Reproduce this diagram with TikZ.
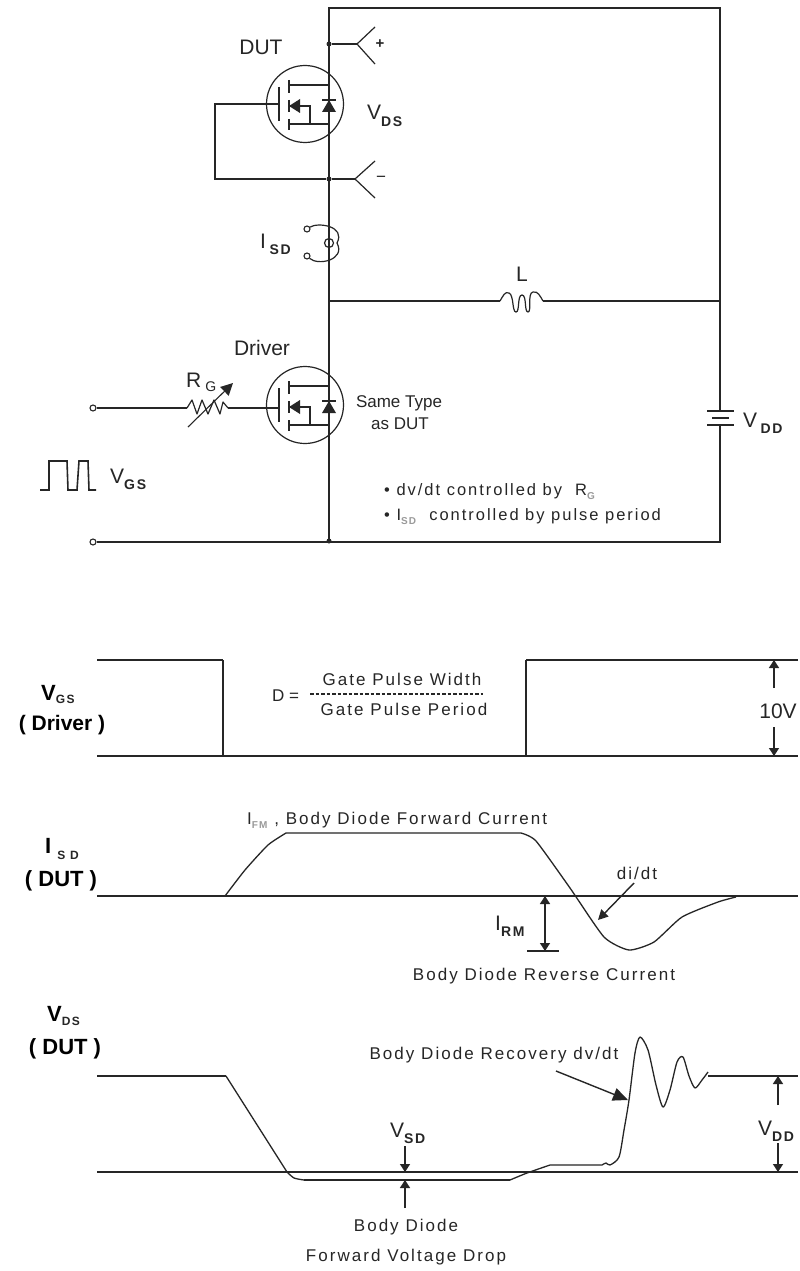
\documentclass[tikz,border=0pt]{standalone}
\usepackage{fontspec}
\setmainfont{Liberation Sans}
\newfontfamily\lsf[LetterSpace=12]{Liberation Sans}
\usetikzlibrary{arrows.meta}
\definecolor{ink}{HTML}{262626}
\definecolor{faint}{HTML}{9A9A9A}
\newcommand{\Fs}[1]{\fontsize{#1}{#1}\selectfont}
\newcommand{\Sb}[1]{\raisebox{-6.5pt}{\Fs{14}\lsf\bfseries #1}}
\newcommand{\Gb}[1]{\raisebox{-4pt}{\Fs{10}\color{faint}\bfseries #1}}
\tikzset{
 wire/.style={draw=ink,line width=1.6pt},
 thin wire/.style={draw=ink,line width=1.2pt},
 wave/.style={draw=ink,line width=1.3pt,line join=round},
 base line/.style={draw=ink,line width=2.1pt},
 tip/.style={-{Triangle[length=10pt,width=10pt]},draw=ink,line width=1.4pt,fill=ink},
 dim/.style={-{Triangle[length=8pt,width=10pt]},draw=ink,line width=1.4pt},
 dotj/.style={circle,fill=ink,inner sep=0pt,minimum size=5pt},
 term/.style={circle,draw=ink,line width=1.1pt,fill=white,inner sep=0pt,minimum size=6pt},
 sm/.style={font=\lsf\Fs{17},text=ink,inner sep=0pt},
 sn/.style={font=\lsf\Fs{16.5},text=ink,inner sep=0pt},
 md/.style={font=\Fs{17},text=ink,inner sep=0pt},
 lg/.style={font=\Fs{21},text=ink,inner sep=0pt},
 hd/.style={font=\bfseries\Fs{22},text=black,inner sep=0pt},
 mosfet/.pic={
  \draw[thin wire] (0,0) circle (38.5);
  \draw[wire] (-26,-17) -- (-26,17);
  \draw[wire] (-16,-24) -- (-16,-11) (-16,-4) -- (-16,8) (-16,15) -- (-16,26);
  \draw[wire] (-16,-19) -- (24,-19) (-16,20) -- (24,20);
  \draw[wire] (-16,2) -- (5,2) -- (5,20);
  \fill[ink] (-16,2) -- (-5,-5) -- (-5,9) -- cycle;
  \fill[ink] (24,-4) -- (31,8) -- (17,8) -- cycle;
  \draw[wire] (17,-4) -- (31,-4);
 }
}
\begin{document}
\begin{tikzpicture}[x=1pt,y=-1pt]
\useasboundingbox (0,0) rectangle (800,1271);
\fill[white] (0,0) rectangle (800,1271);
% --- circuit coordinates
\coordinate (tl) at (329,8);
\coordinate (tr) at (720,8);
\coordinate (br) at (720,542);
\coordinate (gndL) at (329,542);
\coordinate (mid) at (329,301);
\coordinate (midR) at (720,301);
\coordinate (lL) at (500,301);
\coordinate (lR) at (543,301);
\coordinate (batT) at (720,411);
\coordinate (batB) at (720,425);
\node[dotj] (jplus) at (329,44) {};
\node[dotj] (jminus) at (329,179) {};
\node[dotj] (jgnd) at (329,541) {};
% loop
\draw[wire] (gndL) -- (tl) -- (tr) -- (batT);
\draw[wire] (batB) -- (br) -- (gndL);
\draw[wire] (mid) -- (lL);
\draw[wire] (lR) -- (midR);
% inductor
\draw[thin wire] (lL) .. controls (503,296) and (505,291) .. (509,293) .. controls (514,295) and (512,312) .. (516,312) .. controls (520,312) and (517,295) .. (522,295) .. controls (527,295) and (524,312) .. (528,312) .. controls (532,312) and (527,293) .. (533,292) .. controls (538,291) and (540,296) .. (lR);
% battery
\draw[wire] (707,411) -- (734,411) (712,418) -- (729,418) (707,425) -- (734,425);
% MOSFETs
\pic at (305,104) {mosfet};
\pic at (305,405) {mosfet};
% DUT gate return
\coordinate (gdut) at (279,104);
\coordinate (retTop) at (215,104);
\coordinate (retBot) at (215,179);
\draw[wire] (gdut) -- (retTop) -- (retBot) -- (jminus);
% V_DS probes
\coordinate (pv) at (357,44);
\coordinate (pm) at (355,179);
\draw[wire] (jplus) -- (pv);
\draw[wire] (jminus) -- (pm);
\draw[thin wire] (375,27) -- (pv) -- (375,64);
\draw[thin wire] (375,161) -- (pm) -- (375,198);
\node[font=\bfseries\Fs{15},text=ink,inner sep=0pt] (plus) at (380,44) {+};
\node[md,anchor=center] (minus) at (381,179) {−};
% current probe
\node[term] (cpA) at (307,229) {};
\node[term] (cpB) at (307,256) {};
\draw[thin wire] (cpA) .. controls (318,222) and (346,226) .. (337,243);
\draw[thin wire] (cpB) .. controls (318,266) and (346,260) .. (337,243);
\draw[thin wire] (329,243) circle (4.5);
% gate drive
\node[term] (tg) at (93,408) {};
\node[term] (tb) at (93,542) {};
\coordinate (rL) at (187,408);
\coordinate (rR) at (228,408);
\coordinate (gdrv) at (279,408);
\draw[wire] (tg) -- (rL);
\draw[wire] (rR) -- (gdrv);
\draw[wire] (tb) -- (gndL);
\draw[thin wire,line join=round] (rL) -- (192,400) -- (197,414) -- (202,400) -- (208,414) -- (214,400) -- (220,414) -- (223,402) -- (rR);
\coordinate (raS) at (188,427);
\coordinate (raE) at (233,383);
\draw[-{Triangle[length=12pt,width=12pt]},draw=ink,line width=1.1pt] (raS) -- (raE);
% pulse icon
\draw[wire,line join=miter] (40,490) -- (49,490) -- (49,461) -- (67,461) -- (68,490) -- (77,490) -- (79,461) -- (88,461) -- (89,490) -- (96,490);
% circuit labels
\node[lg,anchor=base] (dut) at (261,55) {DUT};
\node[lg,anchor=base] (drv) at (262,355) {Driver};
\node[lg,anchor=base west] (vds) at (367,120) {V\Sb{DS}};
\node[lg,anchor=base west] (isd) at (260,248) {I\,\Sb{SD}};
\node[lg,anchor=base] (ll) at (522,281) {L};
\node[lg,anchor=base west] (rg) at (186,387) {R\raisebox{-4pt}{\Fs{14} G}};
\node[lg,anchor=base west] (vgs) at (110,483) {V\Sb{GS}};
\node[lg,anchor=base west] (vdd) at (743,427) {V\,\Sb{DD}};
\node[md,anchor=base] (same) at (399,407) {Same Type};
\node[md,anchor=base] (asd) at (400,429) {as DUT};
\node[sn,anchor=base west] (b1) at (384,495) {• dv/dt controlled by\ \ R\Gb{G}};
\node[sn,anchor=base west] (b2) at (384,520) {• I\Gb{SD}\ \ controlled by pulse period};
% --- V_GS waveform
\coordinate (g0) at (97,660);
\coordinate (g1) at (223,660);
\coordinate (g2) at (223,756);
\coordinate (g3) at (526,756);
\coordinate (g4) at (526,660);
\coordinate (g5) at (798,660);
\coordinate (g6) at (97,756);
\coordinate (g7) at (798,756);
\draw[base line] (g0) -- (g1);
\draw[wire] (g1) -- (g2);
\draw[base line] (g6) -- (g7);
\draw[wire] (g3) -- (g4);
\draw[base line] (g4) -- (g5);
\node[hd,anchor=base west] (hvgs) at (41,700) {V\raisebox{-3pt}{\lsf\Fs{12}\color{ink}\bfseries GS}};
\node[font=\bfseries\Fs{21},text=black,inner sep=0pt,anchor=base] (hdrv) at (62,730) {( Driver )};
\node[md,anchor=base west] (dd) at (272,701) {D =};
\coordinate (fracL) at (310,694);
\coordinate (fracR) at (483,694);
\draw[draw=ink,line width=1.3pt,dash pattern=on 3.5pt off 2pt] (fracL) -- (fracR);
\node[sm,anchor=base] (gw) at (402,685) {Gate Pulse Width};
\node[sm,anchor=base] (gp) at (404,715) {Gate Pulse Period};
\coordinate (a10t) at (774,688);
\coordinate (a10te) at (774,660);
\coordinate (a10b) at (774,727);
\coordinate (a10be) at (774,756);
\draw[dim] (a10t) -- (a10te);
\draw[dim] (a10b) -- (a10be);
\node[font=\Fs{21},text=ink,inner sep=0pt,anchor=base] (v10) at (778,718) {10V};
% --- I_SD waveform
\coordinate (i0) at (97,896);
\coordinate (i1) at (798,896);
\draw[base line] (i0) -- (i1);
\draw[wave] plot[smooth,tension=.35] coordinates {(225,896) (245,870) (268,845) (286,833)} -- (521,833) plot[smooth,tension=.35] coordinates {(521,833) (536,841) (570,888) (604,937) (629,950) (654,942) (682,917) (718,902) (736,897)};
\node[hd,anchor=base west] (hisd) at (45,853) {I\raisebox{-6pt}{\hspace{6pt}\lsf\Fs{12}\color{ink}\bfseries S D}};
\node[hd,anchor=base] (hdut1) at (61,886) {( DUT )};
\node[sm,anchor=base west] (ifm) at (247,824) {I\Gb{FM}\ , Body Diode Forward Current};
\node[sm,anchor=base] (didt) at (637,879) {di/dt};
\coordinate (dia) at (634,883);
\coordinate (dib) at (598,920);
\draw[tip] (dia) -- (dib);
\coordinate (rmT) at (545,896);
\coordinate (rmB) at (545,951);
\coordinate (rmM) at (545,923);
\draw[dim] (rmM) -- (rmT);
\draw[dim] (rmM) -- (rmB);
\coordinate (tkL) at (527,951);
\coordinate (tkR) at (559,951);
\draw[wire] (tkL) -- (tkR);
\node[lg,anchor=base west] (irm) at (495,930) {I\Sb{RM}};
\node[sm,anchor=base] (brev) at (544,980) {Body Diode Reverse Current};
% --- V_DS waveform
\coordinate (v0) at (97,1172);
\coordinate (v1) at (798,1172);
\draw[base line] (v0) -- (v1);
\draw[base line] (97,1076) -- (226,1076);
\draw[wave] (226,1076) -- (287,1172) plot[smooth,tension=.4] coordinates {(287,1172) (294,1178) (304,1180)};
\draw[draw=ink,line width=1.8pt] (304,1180) -- (510,1180);
\draw[wave] plot[smooth,tension=.4] coordinates {(510,1180) (527,1173) (550,1165)} -- (602,1165) plot[smooth,tension=.45] coordinates {(602,1165) (606,1163) (610,1165) (619,1157) (624,1130) (629,1100) (635,1053) (640,1037) (648,1050) (656,1085) (663,1107) (670,1090) (677,1062) (683,1057) (689,1076) (695,1088) (702,1080) (708,1072)};
\draw[base line] (708,1076) -- (798,1076);
\node[hd,anchor=base west] (hvds) at (47,1021) {V\raisebox{-4pt}{\lsf\Fs{12}\color{ink}\bfseries DS}};
\node[hd,anchor=base] (hdut2) at (65,1054) {( DUT )};
\node[sm,anchor=base] (brec) at (494,1059) {Body Diode Recovery dv/dt};
\coordinate (ra) at (556,1071);
\coordinate (rb) at (628,1100);
\draw[-{Triangle[length=15pt,width=13pt]},draw=ink,line width=1.4pt] (ra) -- (rb);
\coordinate (sdT) at (405,1146);
\coordinate (sdTe) at (405,1172);
\coordinate (sdB) at (405,1208);
\coordinate (sdBe) at (405,1180);
\draw[dim] (sdT) -- (sdTe);
\draw[dim] (sdB) -- (sdBe);
\node[lg,anchor=base west] (vsd) at (390,1137) {V\Sb{SD}};
\coordinate (ddT) at (778,1105);
\coordinate (ddTe) at (778,1076);
\coordinate (ddB) at (778,1143);
\coordinate (ddBe) at (778,1172);
\draw[dim] (ddT) -- (ddTe);
\draw[dim] (ddB) -- (ddBe);
\node[lg,anchor=base west] (vdd2) at (758,1135) {V\Sb{DD}};
\node[sm,anchor=base] (bd1) at (406,1231) {Body Diode};
\node[sm,anchor=base] (bd2) at (406,1261) {Forward Voltage Drop};
\end{tikzpicture}
\end{document}
